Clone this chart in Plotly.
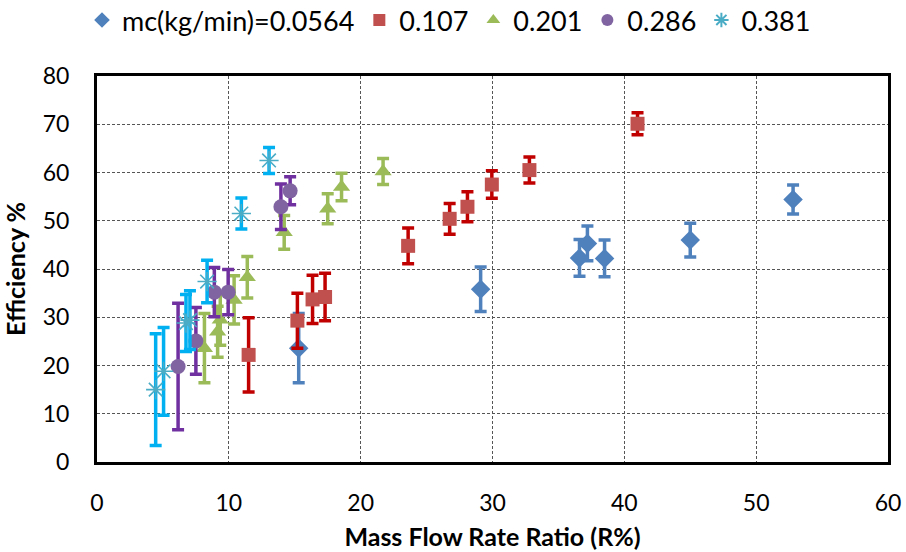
import plotly.graph_objects as go

# Series data: x = mass flow rate ratio (R%), y = efficiency %, e = +/- error
names = ["mc(kg/min)=0.0564", "0.107", "0.201", "0.286", "0.381"]

x1 = [15.3, 29.1, 36.6, 37.2, 38.5, 45.0, 52.8]
y1 = [23.6, 35.8, 42.3, 45.3, 42.2, 46.0, 54.4]
e1 = [7.2, 4.6, 3.8, 3.6, 3.8, 3.5, 3.0]

x2 = [11.5, 15.2, 16.35, 17.3, 23.6, 26.75, 28.1, 29.95, 32.8, 41.0]
y2 = [22.2, 29.3, 33.7, 34.2, 44.8, 50.4, 52.9, 57.5, 60.5, 70.1]
e2 = [7.7, 5.7, 5.0, 4.9, 3.7, 3.2, 3.1, 2.85, 2.7, 2.3]

x3 = [8.15, 9.15, 9.35, 10.4, 11.4, 14.2, 17.5, 18.55, 21.7]
y3 = [23.6, 27.0, 29.5, 33.6, 38.3, 47.6, 52.5, 57.0, 60.2]
e3 = [7.2, 5.3, 5.3, 5.0, 4.3, 3.5, 3.1, 2.85, 2.7]

x4 = [6.15, 7.5, 8.9, 9.95, 13.95, 14.65]
y4 = [19.8, 25.1, 35.2, 35.2, 52.9, 56.2]
e4 = [13.1, 6.9, 5.1, 4.7, 4.7, 2.9]

x5 = [4.45, 5.05, 6.75, 7.05, 8.35, 10.95, 13.05]
y5 = [15.0, 18.8, 28.8, 29.4, 37.4, 51.5, 62.5]
e5 = [11.6, 9.1, 5.9, 6.1, 4.4, 3.2, 2.7]

x_ticks = [0, 10, 20, 30, 40, 50, 60]
y_ticks = [0, 10, 20, 30, 40, 50, 60, 70, 80]

series = [
    (x1, y1, e1, "diamond", "#4F81BD", "#4F81BD", 15),
    (x2, y2, e2, "square", "#C0504D", "#C00000", 14),
    (x3, y3, e3, "triangle-up", "#9BBB59", "#9BBB59", 15),
    (x4, y4, e4, "circle", "#8064A2", "#7030A0", 15),
    (x5, y5, e5, "asterisk-open", "#4BACC6", "#00B0F0", 16),
]

fig = go.Figure()
for name, (xs, ys, es, sym, mc, ec, sz) in zip(names, series):
    marker = dict(symbol=sym, color=mc, size=sz)
    if sym == "asterisk-open":
        marker["line"] = dict(color=mc, width=1.6)
    else:
        marker["line"] = dict(width=0)
    fig.add_trace(go.Scatter(
        x=xs, y=ys, mode="markers", name=name, marker=marker,
        error_y=dict(type="data", array=es, visible=True, color=ec,
                     thickness=3.5, width=6),
    ))

font_family = "Lato, Carlito, Calibri, sans-serif"
fig.update_layout(
    width=906, height=552,
    margin=dict(l=97, r=18, t=76, b=90, autoexpand=False),
    paper_bgcolor="white", plot_bgcolor="white",
    font=dict(family=font_family, size=23, color="black"),
    legend=dict(orientation="h", x=0.445, xanchor="center", yref="container",
                y=0.963, yanchor="middle", font=dict(size=27),
                itemsizing="constant", tracegroupgap=0),
    showlegend=True,
)
fig.update_xaxes(
    range=[0, 60], tickvals=x_ticks, ticks="", showgrid=True,
    gridcolor="#555555", griddash="3px,2px", gridwidth=1,
    showline=True, linecolor="black", linewidth=3, mirror=True,
    zeroline=False, ticklabelstandoff=18, automargin=False,
    title=dict(text="<b>Mass Flow Rate Ratio (R%)</b>", standoff=14,
               font=dict(size=25)),
)
fig.update_yaxes(
    range=[0, 80], tickvals=y_ticks, ticks="", showgrid=True,
    gridcolor="#555555", griddash="3px,2px", gridwidth=1,
    showline=True, linecolor="black", linewidth=3, mirror=True,
    zeroline=False, ticklabelstandoff=20, automargin=False,
    title=dict(text="<b>Efficiency %</b>", standoff=10, font=dict(size=25)),
)
fig.write_html("out.html")
